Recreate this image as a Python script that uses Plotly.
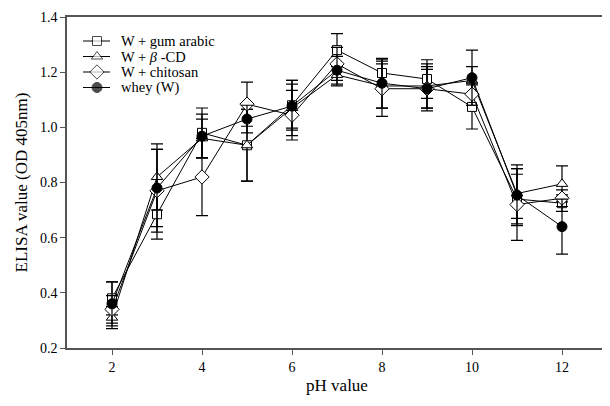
import plotly.graph_objects as go

ph = [2, 3, 4, 5, 6, 7, 8, 9, 10, 11, 12]

gum = [0.38, 0.685, 0.98, 0.935, 1.08, 1.28, 1.197, 1.175, 1.074, 0.74, 0.725]
gum_err = [0.06, 0.09, 0.09, 0.13, 0.09, 0.06, 0.05, 0.07, 0.08, 0.09, 0.03]

bcd = [0.31, 0.82, 0.96, 0.935, 1.07, 1.19, 1.15, 1.15, 1.17, 0.76, 0.795]
bcd_err = [0.04, 0.12, 0.07, 0.13, 0.10, 0.04, 0.08, 0.08, 0.05, 0.09, 0.065]

chi = [0.34, 0.77, 0.82, 1.084, 1.044, 1.23, 1.14, 1.14, 1.12, 0.72, 0.743]
chi_err = [0.05, 0.15, 0.14, 0.08, 0.09, 0.06, 0.1, 0.07, 0.04, 0.13, 0.03]

whey = [0.36, 0.78, 0.968, 1.03, 1.077, 1.207, 1.16, 1.14, 1.18, 0.754, 0.64]
whey_err = [0.08, 0.14, 0.08, 0.05, 0.08, 0.05, 0.09, 0.08, 0.10, 0.11, 0.1]

x_ticks = [2, 4, 6, 8, 10, 12]
y_ticks = [0.2, 0.4, 0.6, 0.8, 1.0, 1.2, 1.4]
y_tick_text = ["0.2", "0.4", "0.6", "0.8", "1.0", "1.2", "1.4"]

names = ["W + gum arabic", "W + <i>β</i> -CD", "W + chitosan", "whey (W)"]
series = [gum, bcd, chi, whey]
errors = [gum_err, bcd_err, chi_err, whey_err]
symbols = ["square", "triangle-up", "diamond", "circle"]
fills = ["white", "white", "white", "black"]
sizes = [9, 10, 11, 10]

FONT = "Liberation Serif"

fig = go.Figure()
for name, y, e, sym, fc, sz in zip(names, series, errors, symbols, fills, sizes):
    fig.add_trace(go.Scatter(
        x=ph, y=y, name=name, mode="lines+markers", showlegend=False,
        line=dict(color="black", width=1),
        marker=dict(symbol=sym, size=sz, color=fc, line=dict(color="black", width=1)),
        error_y=dict(type="data", array=e, visible=True, color="black",
                     thickness=1.2, width=6),
    ))

# compact legend drawn on an overlay axis measured in plot-area pixels
leg_rows = [24, 39.5, 55, 70.5]
for name, sym, fc, sz, ry in zip(names, symbols, fills, sizes, leg_rows):
    fig.add_trace(go.Scatter(
        x=[16, 30, 43], y=[ry, ry, ry], xaxis="x2", yaxis="y2",
        mode="lines+markers", showlegend=False, hoverinfo="skip",
        line=dict(color="black", width=1),
        marker=dict(symbol=sym, size=[0, sz, 0], color=fc,
                    line=dict(color="black", width=[0, 1, 0])),
    ))
    fig.add_annotation(x=53, y=ry, xref="x2", yref="y2", text=name,
                       showarrow=False, xanchor="left", yanchor="middle",
                       borderpad=0,
                       font=dict(family=FONT, size=14.5, color="black"))

fig.update_layout(
    width=602, height=398,
    margin=dict(l=59, r=3, t=9, b=58),
    paper_bgcolor="white", plot_bgcolor="white",
    font=dict(family=FONT, size=14, color="black"),
    showlegend=False,
    xaxis=dict(
        range=[1, 13], tickvals=x_ticks, automargin=False,
        showline=True, linecolor="#555", linewidth=1.5, mirror=True,
        ticks="outside", ticklen=5, tickcolor="#555", showgrid=False, zeroline=False,
        title=dict(text="pH value", font=dict(size=17, family=FONT), standoff=6),
        tickfont=dict(size=14, family=FONT),
    ),
    yaxis=dict(
        range=[0.2, 1.4], tickvals=y_ticks, ticktext=y_tick_text, automargin=False,
        showline=True, linecolor="#555", linewidth=1.5, mirror=True,
        ticks="outside", ticklen=5, tickcolor="#555", showgrid=False, zeroline=False,
        title=dict(text="ELISA value (OD 405nm)", font=dict(size=17, family=FONT), standoff=8),
        tickfont=dict(size=14, family=FONT),
    ),
    xaxis2=dict(overlaying="x", range=[0, 540], visible=False, fixedrange=True),
    yaxis2=dict(overlaying="y", range=[331, 0], visible=False, fixedrange=True),
)
fig.write_html("out.html")
